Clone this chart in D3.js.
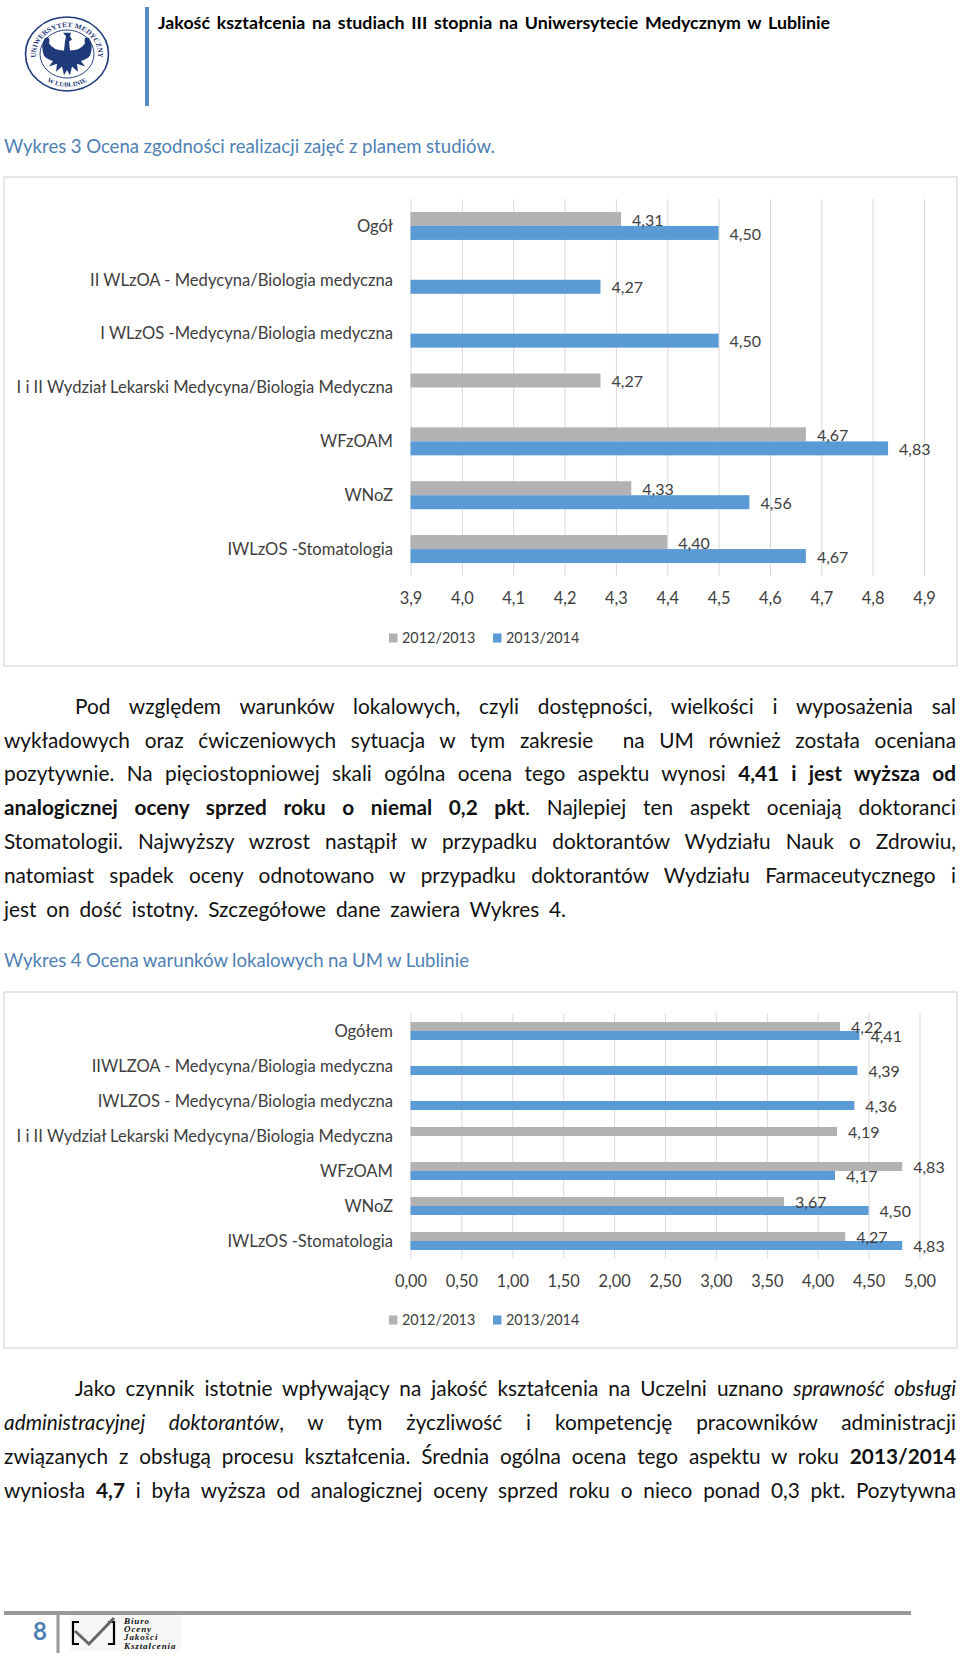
<!DOCTYPE html>
<html><head><meta charset="utf-8">
<script src="https://cdn.jsdelivr.net/npm/d3@7/dist/d3.min.js"></script>
<style>html,body{margin:0;padding:0;background:#fff}svg{display:block}text{font-family:Lato,sans-serif}</style>
</head><body><svg id="page" width="960" height="1657"></svg>
<script>
const series = ["2012/2013","2013/2014"];
const cats1 = ["Ogół","II WLzOA - Medycyna/Biologia medyczna","I WLzOS -Medycyna/Biologia medyczna","I i II Wydział Lekarski Medycyna/Biologia Medyczna","WFzOAM","WNoZ","IWLzOS -Stomatologia"];
const prev1 = [4.31,null,null,4.27,4.67,4.33,4.40];
const curr1 = [4.50,4.27,4.50,null,4.83,4.56,4.67];
const ticks1 = [3.9,4.0,4.1,4.2,4.3,4.4,4.5,4.6,4.7,4.8,4.9];
const cats2 = ["Ogółem","IIWLZOA - Medycyna/Biologia medyczna","IWLZOS - Medycyna/Biologia medyczna","I i II Wydział Lekarski Medycyna/Biologia Medyczna","WFzOAM","WNoZ","IWLzOS -Stomatologia"];
const prev2 = [4.22,null,null,4.19,4.83,3.67,4.27];
const curr2 = [4.41,4.39,4.36,null,4.17,4.50,4.83];
const ticks2 = [0,0.5,1,1.5,2,2.5,3,3.5,4,4.5,5];
const title = "Jakość kształcenia na studiach III stopnia na Uniwersytecie Medycznym w Lublinie";
const heading3 = "Wykres 3 Ocena zgodności realizacji zajęć z planem studiów.";
const heading4 = "Wykres 4 Ocena warunków lokalowych na UM w Lublinie";
const para1 = [
 [["Pod względem warunków lokalowych, czyli dostępności, wielkości i wyposażenia sal",""]],
 [["wykładowych oraz ćwiczeniowych sytuacja w tym zakresie  na UM również została oceniana",""]],
 [["pozytywnie. Na pięciostopniowej skali ogólna ocena tego aspektu wynosi ",""],["4,41 i jest wyższa od","b"]],
 [["analogicznej oceny sprzed roku o niemal 0,2 pkt","b"],[". Najlepiej ten aspekt oceniają doktoranci",""]],
 [["Stomatologii. Najwyższy wzrost nastąpił w przypadku doktorantów Wydziału Nauk o Zdrowiu,",""]],
 [["natomiast spadek oceny odnotowano w przypadku doktorantów Wydziału Farmaceutycznego i",""]],
 [["jest on dość istotny. Szczegółowe dane zawiera Wykres 4.",""]]
];
const para2 = [
 [["Jako czynnik istotnie wpływający na jakość kształcenia na Uczelni uznano ",""],["sprawność obsługi","i"]],
 [["administracyjnej doktorantów","i"],[", w tym życzliwość i kompetencję pracowników administracji",""]],
 [["związanych z obsługą procesu kształcenia. Średnia ogólna ocena tego aspektu w roku ",""],["2013/2014","b"]],
 [["wyniosła ",""],["4,7","b"],[" i była wyższa od analogicznej oceny sprzed roku o nieco ponad 0,3 pkt. Pozytywna",""]]
];
const pageNumber = "8";
const logoWords = ["Biuro","Oceny","Jakości","Kształcenia"];

const svg = d3.select("#page");
const GREY="#b2b2b2", BLUE="#5b9bd5", LABEL="#404040", HEAD="#4f81b4";
const comma = (d,n)=>d.toFixed(n).replace(".",",");

function fitted(sel, x, y, w, runs, size, color){
  const t = sel.append("text").attr("x",x).attr("y",y).attr("dy","0.35em")
    .attr("font-size",size).attr("fill",color).attr("xml:space","preserve").style("white-space","pre");
  runs.forEach(r=>t.append("tspan").text(r[0])
    .attr("font-weight",r[1]==="b"?700:400).attr("font-style",r[1]==="i"?"italic":"normal"));
  const nat = t.node().getComputedTextLength();
  const spaces = runs.map(r=>r[0]).join("").split(" ").length-1;
  t.style("word-spacing",((w-nat)/spaces)+"px");
  return t;
}

// header
svg.append("rect").attr("x",145).attr("y",7).attr("width",4).attr("height",99).attr("fill","#5a8ac6");
fitted(svg,158,23,672,[[title,"b"]],17.8,"#000");
fitted(svg,4,146.5,491,[[heading3,""]],18.6,HEAD);
fitted(svg,4,960.5,465,[[heading4,""]],18.6,HEAD);

// paragraphs
const body="#111";
[[para1,706.5],[para2,1389]].forEach(([p,y0])=>{
  p.forEach((runs,i)=>{
    const last = p===para1 && i===p.length-1;
    const x = i===0?75:4;
    const w = last?562:(956-x);
    fitted(svg,x,y0+i*33.8,w,runs,20.8,body);
  });
});

// charts
function chart(cfg){
  const g = svg.append("g");
  g.append("rect").attr("x",cfg.frame[0]).attr("y",cfg.frame[1]).attr("width",cfg.frame[2]-cfg.frame[0]).attr("height",cfg.frame[3]-cfg.frame[1])
    .attr("fill","#fff").attr("stroke","#dedede").attr("stroke-width",1.5);
  const x = d3.scaleLinear().domain(cfg.domain).range([410.5,cfg.xMax]);
  const y = d3.scaleBand().domain(cfg.cats).range(cfg.yRange).paddingInner(cfg.pad).paddingOuter(cfg.pad/2);
  const s = d3.scaleBand().domain(series).range([0,y.bandwidth()]);
  const axis = g.append("g").attr("transform",`translate(0,${cfg.yRange[1]})`)
    .call(d3.axisBottom(x).tickValues(cfg.ticks).tickFormat(d=>comma(d,cfg.dec)).tickSize(-(cfg.yRange[1]-cfg.yRange[0])).tickPadding(0));
  axis.select(".domain").remove();
  axis.selectAll(".tick line").attr("stroke","#d9d9d9");
  axis.selectAll(".tick text").attr("y",cfg.tickY-cfg.yRange[1]).attr("dy","0.35em").attr("fill",LABEL).attr("font-size",16.4).attr("font-family","Lato,sans-serif");
  g.append("g").selectAll("text").data(cfg.cats).join("text")
    .attr("x",393).attr("y",d=>y(d)+y.bandwidth()/2).attr("dy","0.35em").attr("text-anchor","end")
    .attr("font-size",16.6).attr("fill",LABEL).text(d=>d);
  [cfg.prev,cfg.curr].forEach((vals,k)=>{
    const color = k?BLUE:GREY;
    const rows = vals.map((v,i)=>({v,c:cfg.cats[i]})).filter(d=>d.v!==null);
    g.append("g").selectAll("rect").data(rows).join("rect")
      .attr("x",x(cfg.domain[0])).attr("y",d=>y(d.c)+s(series[k]))
      .attr("width",d=>x(d.v)-x(cfg.domain[0])).attr("height",s.bandwidth()).attr("fill",color);
  });
  [cfg.prev,cfg.curr].forEach((vals,k)=>{
    const rows = vals.map((v,i)=>({v,c:cfg.cats[i]})).filter(d=>d.v!==null);
    g.append("g").selectAll("text").data(rows).join("text")
      .attr("x",d=>x(d.v)+11).attr("y",d=>y(d.c)+s(series[k])+s.bandwidth()/2+1).attr("dy","0.35em")
      .attr("font-size",16).attr("fill",LABEL).text(d=>comma(d.v,2));
  });
  const leg = [[389,402],[493,506]];
  series.forEach((name,k)=>{
    g.append("rect").attr("x",leg[k][0]).attr("y",cfg.legendY-4.5).attr("width",8.5).attr("height",9).attr("fill",k?BLUE:GREY);
    g.append("text").attr("x",leg[k][1]).attr("y",cfg.legendY).attr("dy","0.35em").attr("font-size",14.4).attr("fill",LABEL).text(name);
  });
}
chart({frame:[4,177,957,666],domain:[3.9,4.9],xMax:924,yRange:[199,576],pad:0.48,cats:cats1,prev:prev1,curr:curr1,ticks:ticks1,dec:1,tickY:598,legendY:638});
chart({frame:[4,992,957,1348],domain:[0,5],xMax:919.5,yRange:[1013.5,1258.5],pad:0.486,cats:cats2,prev:prev2,curr:curr2,ticks:ticks2,dec:2,tickY:1281,legendY:1320});

// university seal
const seal = svg.append("g").attr("transform","translate(67,54) scale(1,0.89)");
const NAVY="#1f3a7a";
seal.append("circle").attr("r",41.5).attr("fill","#fff").attr("stroke",NAVY).attr("stroke-width",1.6);
seal.append("circle").attr("r",27).attr("fill","#fff").attr("stroke",NAVY).attr("stroke-width",1);
const defs = svg.append("defs");
defs.append("path").attr("id","arcTop").attr("d","M -27 16 A 31 31 0 1 1 27 16");
defs.append("path").attr("id","arcBot").attr("d","M -26 26 A 37 37 0 0 0 26 26");
seal.append("text").attr("font-size",7.6).style("font-family","Liberation Serif").attr("fill",NAVY).attr("font-weight",700)
  .append("textPath").attr("href","#arcTop").attr("startOffset","50%").attr("text-anchor","middle").text("UNIWERSYTET MEDYCZNY");
seal.append("text").attr("font-size",7).style("font-family","Liberation Serif").attr("fill",NAVY).attr("font-weight",700)
  .append("textPath").attr("href","#arcBot").attr("startOffset","50%").attr("text-anchor","middle").text("W LUBLINIE");
seal.append("path").attr("fill",NAVY).attr("d","M-4 -24 L4 -24 L3 -20 L5 -16 L2 -14 L3 -4 Q14 -4 18 -12 Q16 -20 22 -18 Q27 -10 23 2 Q20 6 14 8 L18 14 L10 11 L11 20 L5 14 L3 24 L0 18 L-3 24 L-5 14 L-11 20 L-10 11 L-18 14 L-14 8 Q-20 6 -23 2 Q-27 -10 -22 -18 Q-16 -20 -18 -12 Q-14 -4 -3 -4 L-2 -14 L-1 -20 Z");

// footer
svg.append("rect").attr("x",4).attr("y",1611).attr("width",907).attr("height",4).attr("fill","#999");
svg.append("rect").attr("x",56.5).attr("y",1615).attr("width",3).attr("height",38).attr("fill","#999");
svg.append("text").attr("x",40).attr("y",1632).attr("dy","0.35em").attr("text-anchor","middle").attr("font-size",24).attr("font-weight",700).attr("fill","#4f81b4").text(pageNumber);
const lg = svg.append("g").attr("transform","translate(70,1615)");
lg.append("rect").attr("width",111).attr("height",36).attr("fill","#f7f7f7");
lg.append("path").attr("fill","none").attr("stroke","#000").attr("stroke-width",2.2).attr("d","M9 7 H3 V29 H9 M38 7 H44 V29 H38");
lg.append("path").attr("fill","none").attr("stroke","#666").attr("stroke-width",3).attr("d","M5 16 L19 29 L44 3");
lg.append("g").selectAll("text").data(logoWords).join("text")
  .attr("x",54).attr("y",(d,i)=>9+i*8.2).attr("font-size",9).attr("font-weight",700).attr("font-style","italic")
  .style("font-family","Liberation Serif").style("letter-spacing","0.9px").attr("fill","#111").text(d=>d);
</script></body></html>
